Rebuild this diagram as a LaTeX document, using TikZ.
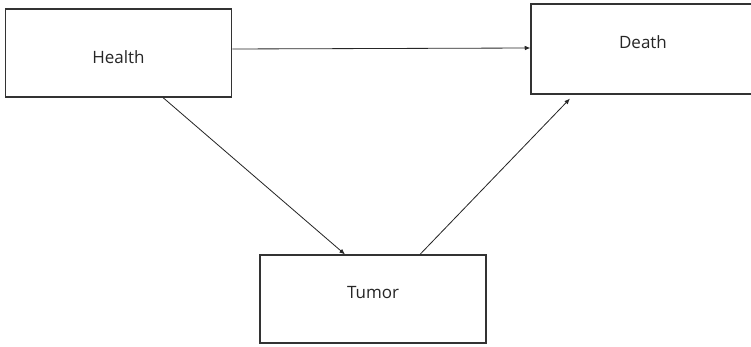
\documentclass[tikz,border=0pt]{standalone}
\usepackage{fontspec}
\setmainfont{Open Sans}
\usetikzlibrary{positioning,arrows.meta,calc}
\tikzset{
  statebox/.style={draw=black!80, line width=1pt, fill=white, minimum width=6.8cm, minimum height=2.64cm, align=center, font=\fontsize{14.5}{17}\selectfont, text=black!85},
  moveline/.style={-{Latex[length=1.7mm, width=1.4mm]}, line width=0.7pt, black!85}
}
\newcommand{\boxtext}[2]{\smash{\raisebox{#1}{#2}}}
\begin{document}
\begin{tikzpicture}[x=0.03cm, y=-0.03cm]
  \useasboundingbox (0,0) rectangle (751,347);
  \clip (0,0) rectangle (751,347);
  \node[statebox] (health) at (118.5,53) {\boxtext{-0.33cm}{Health}};
  \node[statebox, minimum width=6.72cm, minimum height=2.7cm] (death) at (643,49) {\boxtext{0.02cm}{Death}};
  \node[statebox, minimum width=6.78cm] (tumor) at (373,299) {\boxtext{0.02cm}{Tumor}};
  \draw[moveline] (health.east |- 0,49) -- (death.west |- 0,48);
  \draw[moveline] ([xshift=1.335cm]health.south) -- ([xshift=-0.84cm]tumor.north);
  \draw[moveline] ([xshift=1.41cm]tumor.north) -- ([xshift=-2.19cm,yshift=-0.12cm]death.south);
\end{tikzpicture}
\end{document}
